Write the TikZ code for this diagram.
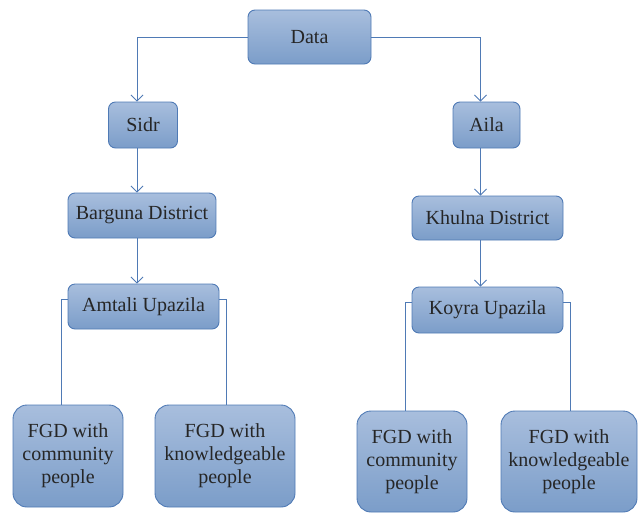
\documentclass[tikz,border=0pt]{standalone}
\usepackage{fontspec}
\setmainfont{Liberation Serif}
\usetikzlibrary{arrows.meta}

\begin{document}
\begin{tikzpicture}[x=1pt, y=-1pt,
  box/.style={draw=boxline, line width=0.9pt, rounded corners=7pt,
    top color=boxtop, bottom color=boxbot, inner sep=0pt, align=center,
    font=\fontsize{20}{23}\selectfont, text=black!85},
  fgd/.style={box, rounded corners=14pt},
  link/.style={draw=boxline, line width=0.9pt},
  arr/.style={link, -{Straight Barb[length=6pt, width=12pt, line width=0.9pt]}}]
\definecolor{boxline}{HTML}{4F7AB5}
\definecolor{boxtop}{HTML}{A8BEDD}
\definecolor{boxbot}{HTML}{7B9DC9}
\useasboundingbox (0,0) rectangle (644,512);

% Top
\node[box, minimum width=123pt, minimum height=54pt] (data) at (309.5,37) {Data};

% Sidr branch
\node[box, minimum width=69pt, minimum height=46pt] (sidr) at (143,125) {Sidr};
\node[box, minimum width=148pt, minimum height=45pt] (barguna) at (142,215.5) {Barguna District};
\node[box, minimum width=151pt, minimum height=45pt] (amtali) at (143.5,306.5) {Amtali Upazila};
\node[fgd, minimum width=110pt, minimum height=102pt] (fgdA1) at (68,456) {FGD with\\community\\people};
\node[fgd, minimum width=140pt, minimum height=102pt] (fgdA2) at (225,456) {FGD with\\knowledgeable\\people};

% Aila branch
\node[box, minimum width=67pt, minimum height=46pt] (aila) at (486.5,125) {Aila};
\node[box, minimum width=151pt, minimum height=44pt] (khulna) at (487.5,218) {Khulna District};
\node[box, minimum width=151pt, minimum height=46pt] (koyra) at (487.5,310) {Koyra Upazila};
\node[fgd, minimum width=110pt, minimum height=101pt] (fgdK1) at (412,461.5) {FGD with\\community\\people};
\node[fgd, minimum width=136pt, minimum height=101pt] (fgdK2) at (569,461.5) {FGD with\\knowledgeable\\people};

% Arrows
\draw[arr] (data.west) -| ([xshift=-6pt]sidr.north);
\draw[arr] (data.east) -| ([xshift=-6pt]aila.north);
\draw[arr] ([xshift=-6pt]sidr.south) -- ([xshift=-6pt]sidr.south |- barguna.north);
\draw[arr] ([xshift=-6pt]sidr.south |- barguna.south) -- ([xshift=-6pt]sidr.south |- amtali.north);
\draw[arr] ([xshift=-6pt]aila.south) -- ([xshift=-6pt]aila.south |- khulna.north);
\draw[arr] ([xshift=-6pt]aila.south |- khulna.south) -- ([xshift=-6pt]aila.south |- koyra.north);

% Lines to FGD boxes
\draw[link] ([yshift=7pt]amtali.west) -| ([xshift=-7pt]fgdA1.north);
\draw[link] ([yshift=7pt]amtali.east) -| ([xshift=1pt]fgdA2.north);
\draw[link] ([yshift=8pt]koyra.west) -| ([xshift=-7pt]fgdK1.north);
\draw[link] ([yshift=8pt]koyra.east) -| ([xshift=1pt]fgdK2.north);
\end{tikzpicture}
\end{document}
